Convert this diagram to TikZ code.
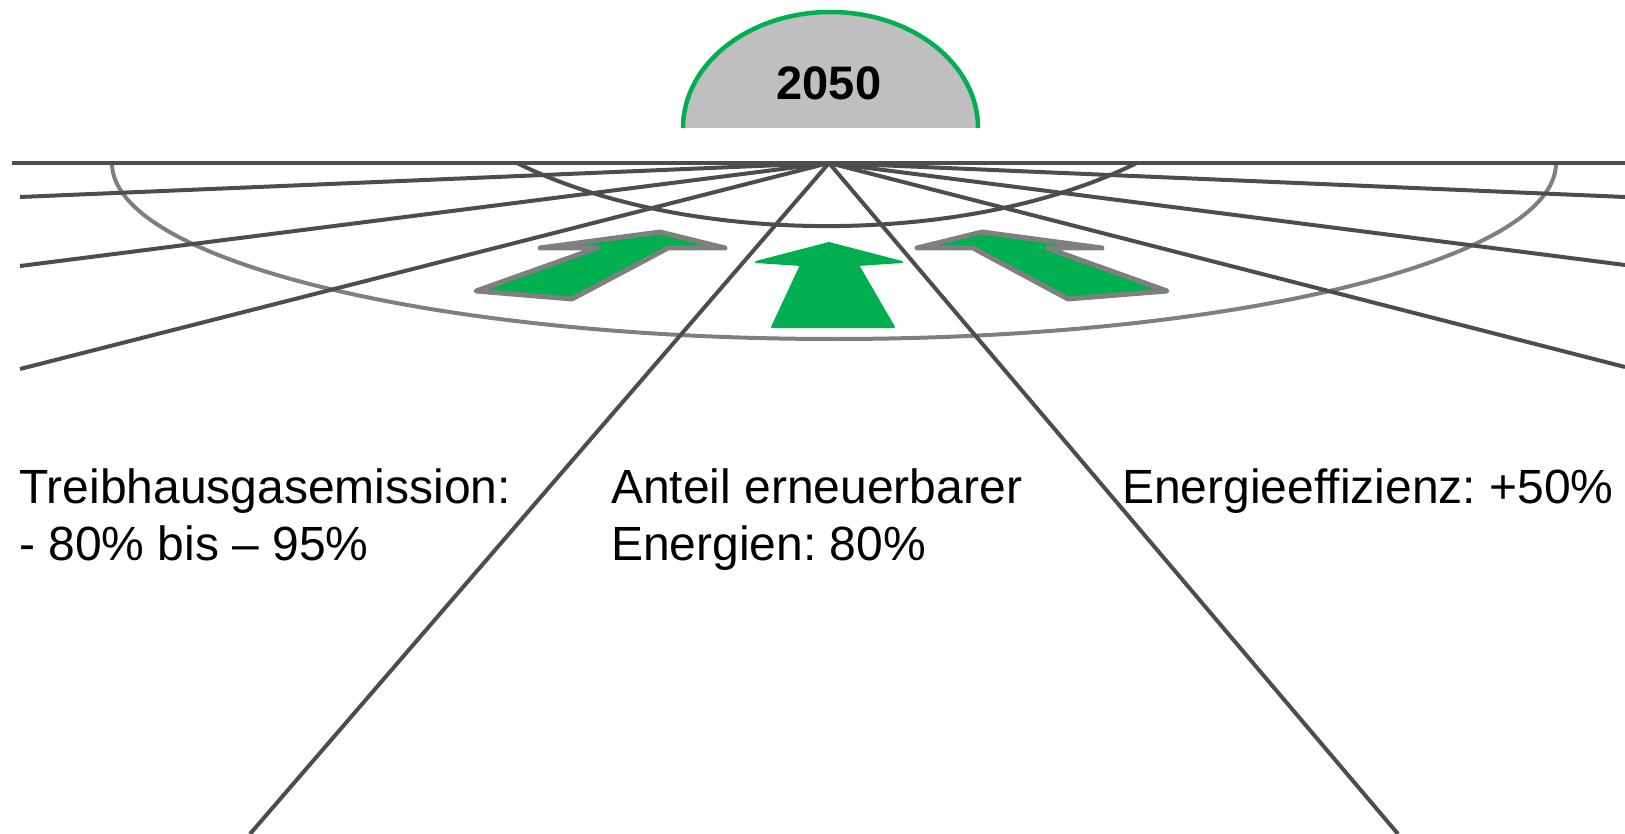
\documentclass[tikz,border=0pt]{standalone}
\usepackage{fontspec}
\setmainfont{Liberation Sans}
\frenchspacing

\definecolor{linie}{HTML}{4D4D4D}
\definecolor{rand}{HTML}{7F7F7F}
\definecolor{gruen}{HTML}{00B050}
\definecolor{kuppel}{HTML}{BFBFBF}

\begin{document}
\begin{tikzpicture}[x=1pt, y=-1pt,
    fluchtlinie/.style={linie, line width=4pt},
    pfeil/.style={fill=gruen, draw=rand, line width=5pt, line join=round},
    ziel/.style={font=\fontsize{48}{57}\selectfont, anchor=base west, align=left, inner sep=0pt}]
    \useasboundingbox (0,0) rectangle (1625,834);

    % Kuppel
    \fill[kuppel] (683,128) arc[start angle=180, end angle=360, x radius=147.5, y radius=116] -- cycle;
    \draw[gruen, line width=4.5pt] (683,128) arc[start angle=180, end angle=360, x radius=147.5, y radius=116];
    \node[font=\fontsize{47}{56}\selectfont\bfseries, anchor=base] (jahr) at (829,100) {2050};

    % Ellipsen
    \draw[rand, line width=4pt] (112,163) arc[start angle=180, end angle=0, x radius=722, y radius=176];
    \draw[linie, line width=4pt] (517,163) arc[start angle=136.8, end angle=43.2, x radius=425, y radius=200];

    % Fluchtpunkt und Linien
    \coordinate (fp) at (829,163);
    \draw[fluchtlinie] (12,163) -- (1625,163);
    \foreach \y in {197,266,369} {
        \draw[fluchtlinie] (fp) -- (20,\y);
    }
    \foreach \y in {197,265,367} {
        \draw[fluchtlinie] (fp) -- (1625,\y);
    }
    \draw[fluchtlinie] (fp) -- (250,834);
    \draw[fluchtlinie] (fp) -- (1398,834);

    % Pfeile
    \draw[pfeil] (660,232) -- (540,248) -- (597,248) -- (476,291) -- (572,299) -- (668,248) -- (725,248) -- cycle;
    \draw[pfeil] (982,232) -- (1102,248) -- (1047,248) -- (1167,291) -- (1068,299) -- (973,248) -- (917,248) -- cycle;
    \filldraw[fill=gruen, draw=gruen, line width=2pt, line join=round] (829,243) -- (902,262) -- (858,265) -- (894,327) -- (772,327) -- (801,265) -- (756,262) -- cycle;

    % Texte (Grundlinie der letzten Zeile)
    \node[ziel] (thg) at (19,560) {Treibhausgasemission:\\- 80\% bis – 95\%};
    \node[ziel] (ee) at (611,560) {Anteil erneuerbarer\\Energien: 80\%};
    \node[ziel] (eff) at (1122,503) {Energieeffizienz: +50\%};
\end{tikzpicture}
\end{document}
